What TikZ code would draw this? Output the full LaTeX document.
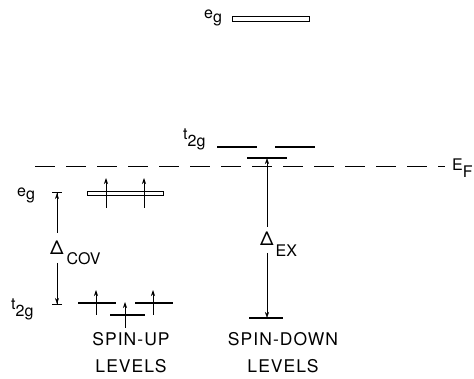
\documentclass[tikz,border=0pt]{standalone}
\usepackage{fontspec}
\setmainfont{TeX Gyre Heros}
\usetikzlibrary{arrows.meta}
\newcommand\lo[2][5pt]{\raisebox{-#1}{#2}}
\tikzset{
LevelStyle/.style  ={line width=1.2pt},
BandStyle/.style   ={draw, line width=1pt, inner sep=0pt,
                     minimum width=76pt, minimum height=4.5pt},
SpinStyle/.style   ={line width=0.7pt, -{Stealth[length=6pt, width=4pt]}},
GapStyle/.style    ={line width=0.5pt, -{Stealth[length=6pt, width=4pt]}},
GapBarStyle/.style ={line width=0.5pt, -{Stealth[length=6pt, width=4pt] Bar[width=10pt, line width=1.1pt]}},
FermiStyle/.style  ={line width=1pt, dash pattern=on 20pt off 11pt},
TermStyle/.style   ={font=\fontsize{16}{16}\selectfont, inner sep=0pt, anchor=base west},
DeltaStyle/.style  ={font=\fontsize{19}{19}\selectfont, inner sep=0pt, anchor=base west},
SideStyle/.style   ={font=\fontsize{17.5}{28}\selectfont\addfontfeatures{LetterSpace=6},
                     align=center, inner sep=0pt, anchor=base},
}
\begin{document}
\begin{tikzpicture}[x=1pt, y=-1pt]
\useasboundingbox (0,0) rectangle (474,379);

\begin{scope}[LevelStyle]  % levels
\coordinate (upA1) at (78,303);  \coordinate (upA2) at (116,303);
\coordinate (upB1) at (110,315); \coordinate (upB2) at (145,315);
\coordinate (upC1) at (135,303); \coordinate (upC2) at (173,303);
\coordinate (dnA1) at (217,147); \coordinate (dnA2) at (257,147);
\coordinate (dnB1) at (275,147); \coordinate (dnB2) at (315,147);
\coordinate (dnC1) at (247,158); \coordinate (dnC2) at (287,158);
\coordinate (dnD1) at (249,318); \coordinate (dnD2) at (283,318);
\draw (upA1) to (upA2);
\draw (upB1) to (upB2);
\draw (upC1) to (upC2);
\draw (dnA1) to (dnA2);
\draw (dnB1) to (dnB2);
\draw (dnC1) to (dnC2);
\draw (dnD1) to (dnD2);
\end{scope}
\node[BandStyle, minimum width=77pt] (egTop) at (270.5,19) {};
\node[BandStyle] (egUp) at (125,193.5) {};

% Fermi level
\coordinate (FermiL) at (35,167); \coordinate (FermiR) at (445,167);
\draw[FermiStyle] (FermiL) to (FermiR);

% spins
\foreach \x/\y/\l in {96/315/25, 125/328/26, 153/315/25, 106/208/30, 144/208/30}
  \draw[SpinStyle] (\x,\y) -- ++(0,-\l);

\begin{scope}  % gaps
\coordinate (covTop) at (57,192); \coordinate (covA) at (57,233);
\coordinate (covB) at (57,263);   \coordinate (covBot) at (57,305);
\coordinate (exTop) at (267,158); \coordinate (exA) at (267,227);
\coordinate (exB) at (267,253);   \coordinate (exBot) at (267,318);
\draw[GapBarStyle] (covA) to (covTop);
\draw[GapBarStyle] (covB) to (covBot);
\draw[GapStyle] (exA) to (exTop);
\draw[GapStyle] (exB) to (exBot);
\end{scope}

% labels
\node[TermStyle] (egTopLbl) at (204,19) {e\lo[4pt]{g}};
\node[TermStyle] (egUpLbl) at (17,197) {e\lo[3pt]{g}};
\node[TermStyle] (tUpLbl) at (11,310) {t\lo[7pt]{2g}};
\node[TermStyle] (tDnLbl) at (183,140) {t\lo[7pt]{2g}};
\node[DeltaStyle] (covLbl) at (50,255) {Δ\kern3pt\lo[10pt]{\fontsize{16}{16}\selectfont COV}};
\node[DeltaStyle] (exLbl) at (260,246) {Δ\kern2pt\lo[11pt]{\fontsize{16}{16}\selectfont EX}};
\node[TermStyle, font=\fontsize{16}{16}\selectfont] (efLbl) at (452,171) {E\lo[7pt]{F}};
\node[SideStyle] (upSide) at (131,373) {SPIN-UP\\LEVELS};
\node[SideStyle] (dnSide) at (283,373) {SPIN-DOWN\\LEVELS};
\end{tikzpicture}
\end{document}
